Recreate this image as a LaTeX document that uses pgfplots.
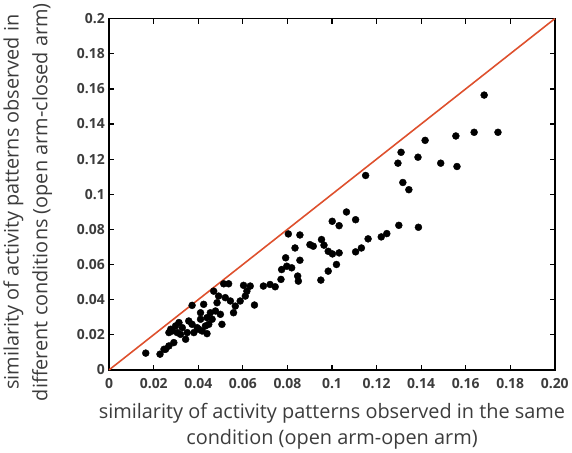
\documentclass[border=0pt]{standalone}
\usepackage{fontspec}
\setmainfont{Open Sans}
\usepackage{pgfplots}
\pgfplotsset{compat=1.18}
\definecolor{diag}{RGB}{222,80,45}
\definecolor{txt}{RGB}{60,60,60}

\begin{document}
\begin{tikzpicture}
\begin{axis}[
    scale only axis,
    width=448pt, height=353pt,
    xmin=0, xmax=0.2, ymin=0, ymax=0.2,
    xtick={0,0.02,...,0.2},
    ytick={0,0.02,...,0.2},
    xticklabels={0,0.02,0.04,0.06,0.08,0.1,0.12,0.14,0.16,0.18,0.20},
    yticklabels={0,0.02,0.04,0.06,0.08,0.1,0.12,0.14,0.16,0.18,0.2},
    tick align=inside,
    axis line style={black, line width=1.5pt},
    xtick style={black, line width=1.2pt},
    ytick style={black, line width=1.2pt},
    major tick length=5pt,
    ticklabel style={font=\fontsize{14}{16}\selectfont\bfseries, text=txt},
    xticklabel style={yshift=-5pt},
    yticklabel style={xshift=-1pt},
    /pgf/number format/assume math mode=true,
    xlabel={similarity of activity patterns observed in the same\\condition (open arm-open arm)},
    ylabel={similarity of activity patterns observed in\\different conditions (open arm-closed arm)},
    xlabel style={font=\fontsize{20}{26}\selectfont, text=txt, align=center, yshift=-8pt},
    ylabel style={font=\fontsize{20}{29}\selectfont, text=txt, align=center, yshift=18pt, xshift=-8pt},
    clip=false,
]
\addplot[diag, line width=1.6pt] coordinates {(0,0) (0.2,0.2)};
\addplot[only marks, mark=*, mark size=3.5pt, black, line width=0.4pt] coordinates {
(0.0164,0.0095) (0.0228,0.0089) (0.0246,0.0117) (0.0253,0.0117)
(0.1683,0.1565) (0.1745,0.1353) (0.1638,0.1353) (0.1556,0.1332)
(0.1418,0.1307) (0.1386,0.1211) (0.1310,0.1239) (0.1296,0.1177)
(0.1488,0.1177) (0.1561,0.1158) (0.1151,0.1107) (0.1318,0.1067)
(0.1345,0.1026) (0.1065,0.0899) (0.1001,0.0846) (0.1032,0.0821)
(0.1106,0.0855) (0.1300,0.0823) (0.1388,0.0812) (0.1246,0.0776)
(0.1221,0.0757) (0.1162,0.0746) (0.1132,0.0694) (0.1106,0.0672)
(0.1032,0.0666) (0.1002,0.0660) (0.1020,0.0600) (0.0983,0.0562)
(0.0950,0.0511) (0.0804,0.0774) (0.0856,0.0768) (0.0834,0.0694)
(0.0901,0.0713) (0.0916,0.0704) (0.0953,0.0742) (0.0964,0.0710)
(0.0983,0.0675) (0.0792,0.0638) (0.0856,0.0624) (0.0774,0.0571)
(0.0797,0.0590) (0.0819,0.0581) (0.0846,0.0534) (0.0849,0.0505)
(0.0771,0.0515) (0.0692,0.0477) (0.0722,0.0486) (0.0745,0.0473)
(0.0603,0.0481) (0.0633,0.0477) (0.0618,0.0448) (0.0652,0.0369)
(0.0611,0.0420) (0.0588,0.0392) (0.0514,0.0490) (0.0536,0.0490)
(0.0469,0.0448) (0.0491,0.0420) (0.0521,0.0411) (0.0484,0.0382)
(0.0544,0.0392) (0.0558,0.0325) (0.0566,0.0363) (0.0499,0.0316)
(0.0506,0.0259) (0.0477,0.0335) (0.0424,0.0373) (0.0372,0.0367)
(0.0410,0.0325) (0.0439,0.0297) (0.0447,0.0259) (0.0439,0.0206)
(0.0417,0.0221) (0.0395,0.0240) (0.0357,0.0278) (0.0372,0.0259)
(0.0343,0.0174) (0.0328,0.0240) (0.0313,0.0269) (0.0298,0.0250)
(0.0283,0.0221) (0.0268,0.0212) (0.0276,0.0231) (0.0305,0.0212)
(0.0320,0.0202) (0.0290,0.0155) (0.0268,0.0136) (0.0350,0.0212)
(0.0380,0.0212) (0.0402,0.0231) (0.0410,0.0288) (0.0454,0.0325)
(0.0462,0.0288) (0.0432,0.0250)
};
\end{axis}
\end{tikzpicture}
\end{document}
